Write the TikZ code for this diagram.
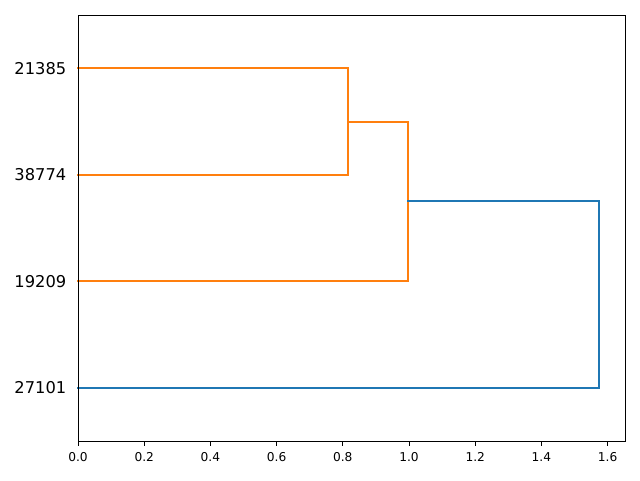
\documentclass[tikz,border=0pt]{standalone}
\usepackage{fontspec}
\setmainfont{DejaVu Sans}
\definecolor{mplorange}{HTML}{FF7F0E}
\definecolor{mplblue}{HTML}{1F77B4}
\begin{document}
\begin{tikzpicture}[x=0.75pt,y=-0.75pt,
  link/.style={line width=1.5pt, line cap=rect, line join=miter},
  frame/.style={line width=0.75pt, black},
  leaflabel/.style={anchor=east, inner sep=0pt, font=\fontsize{12.2}{14}\selectfont},
  ticklabel/.style={anchor=north, inner sep=0pt, font=\fontsize{9.15}{11}\selectfont}]
\useasboundingbox (0,0) rectangle (640,480);
% leaf anchor points (on y-axis)
\coordinate (l1) at (78,68.25);
\coordinate (l2) at (78,174.75);
\coordinate (l3) at (78,281.25);
\coordinate (l4) at (78,387.75);
% merge coordinates
\coordinate (a1) at (347.7,68.25);
\coordinate (a2) at (347.7,174.75);
\coordinate (am) at (347.7,121.5);
\coordinate (b1) at (407.7,121.5);
\coordinate (b2) at (407.7,281.25);
\coordinate (bm) at (407.7,201.4);
\coordinate (c1) at (599,201.4);
\coordinate (c2) at (599,387.75);
% links
\draw[link, mplorange] (l1) -- (a1) -- (a2) -- (l2);
\draw[link, mplorange] (am) -- (b1) -- (b2) -- (l3);
\draw[link, mplblue] (bm) -- (c1) -- (c2) -- (l4);
% frame
\draw[frame] (78,15) rectangle (625.5,441);
% x ticks
\foreach \v/\t in {0/0.0,1/0.2,2/0.4,3/0.6,4/0.8,5/1.0,6/1.2,7/1.4,8/1.6}{
  \draw[frame] ({78+66.2*\v},441) -- ({78+66.2*\v},445.5);
  \node[ticklabel] (t\v) at ({78+66.2*\v},452) {\t};
}
% leaf labels
\node[leaflabel] (n1) at (66.5,68.25) {21385};
\node[leaflabel] (n2) at (66.5,174.75) {38774};
\node[leaflabel] (n3) at (66.5,281.25) {19209};
\node[leaflabel] (n4) at (66.5,387.75) {27101};
\end{tikzpicture}
\end{document}
